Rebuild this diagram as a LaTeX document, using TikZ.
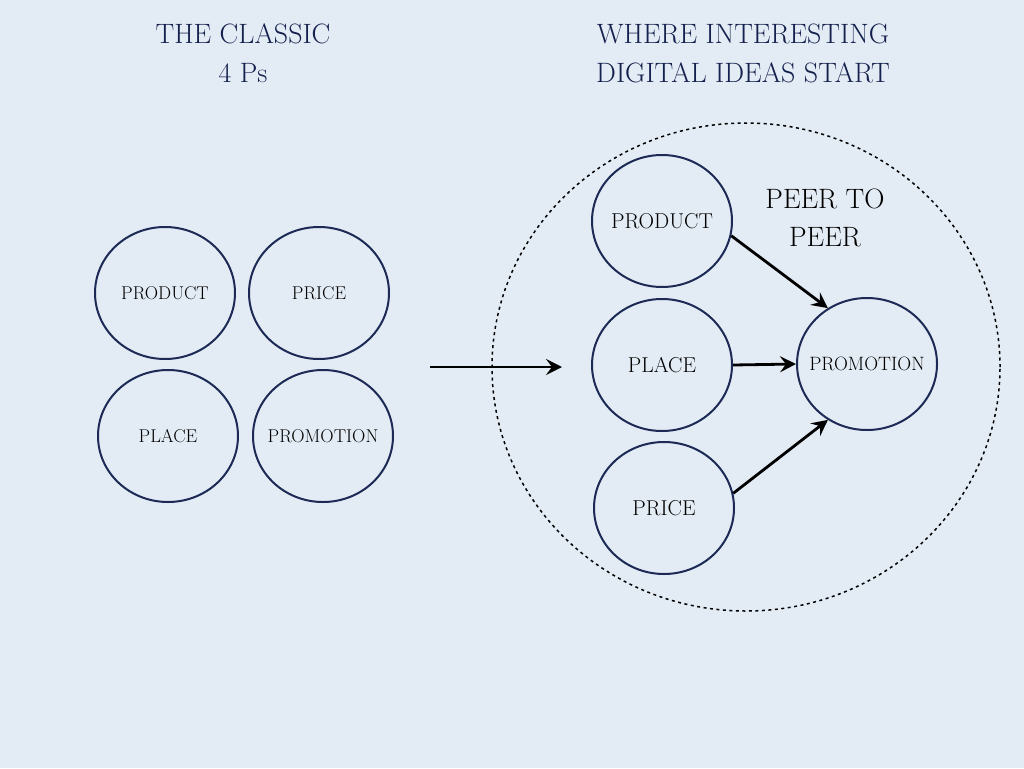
\documentclass[tikz,border=0pt]{standalone}
\usepackage{fontspec}
\usetikzlibrary{shapes.geometric,arrows.meta}
\definecolor{bgblue}{HTML}{E3EBF4}
\definecolor{navy}{HTML}{1C2A55}
\definecolor{titlenavy}{HTML}{14204D}
\newcommand{\clbl}[1]{\makebox[0pt]{#1}}
\tikzset{
  pcircle/.style={ellipse,draw=navy,line width=2pt,minimum width=140pt,minimum height=132pt,inner sep=0pt,text=black},
  lab/.style={font=\fontsize{18.5}{22}\selectfont},
  labbig/.style={font=\fontsize{21.5}{24}\selectfont},
  title/.style={text=titlenavy,align=center,font=\fontsize{28}{39}\selectfont},
  sketch/.style={line width=2.8pt,black,-{Stealth[length=16pt,width=16pt,inset=6pt]}}
}
\begin{document}
\begin{tikzpicture}[x=1pt,y=-1pt]
\useasboundingbox[fill=bgblue] (0,0) rectangle (1024,768);
% titles
\node[title] (t1) at (243,53) {THE CLASSIC\\4 Ps};
\node[title] (t2) at (743,53) {WHERE INTERESTING\\DIGITAL IDEAS START};
% left group
\node[pcircle,lab] (lprod) at (165,293) {\clbl{PRODUCT}};
\node[pcircle,lab] (lprice) at (319,293) {\clbl{PRICE}};
\node[pcircle,lab] (lplace) at (168,436) {\clbl{PLACE}};
\node[pcircle,lab] (lpromo) at (323,436) {\clbl{PROMOTION}};
% dotted region
\node[ellipse,draw=black,dash pattern=on 3pt off 3.5pt,line width=1.5pt,minimum width=508pt,minimum height=488pt] (region) at (746,367) {};
% right group
\node[pcircle,labbig] (rprod) at (662,221) {\clbl{PRODUCT}};
\node[pcircle,labbig] (rplace) at (662,365) {\clbl{PLACE}};
\node[pcircle,labbig] (rprice) at (664,508) {\clbl{PRICE}};
\node[pcircle,font=\fontsize{19.3}{22}\selectfont] (rpromo) at (867,364) {\clbl{PROMOTION}};
\node[align=center,font=\fontsize{28}{38}\selectfont] (peer) at (825,218) {PEER TO\\PEER};
% arrows
\coordinate (a1) at (430,367);
\coordinate (a2) at (562,367);
\draw[sketch] (a1) -- (a2);
\draw[sketch] (rprod.-12) -- (rpromo.125);
\draw[sketch] (rplace.east) -- (rpromo.west);
\draw[sketch] (rprice.12) -- (rpromo.-125);
\end{tikzpicture}
\end{document}
